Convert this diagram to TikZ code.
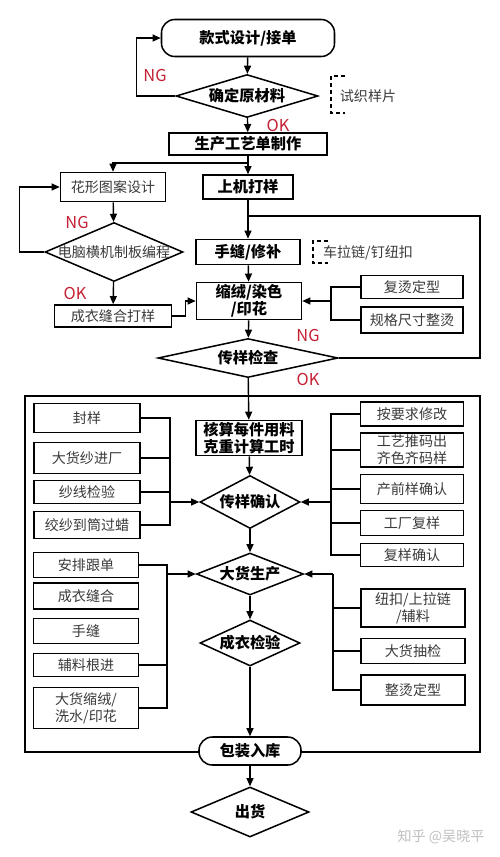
\documentclass[tikz,border=0pt]{standalone}
\usepackage{fontspec}
\setmainfont{Noto Sans CJK SC}
\usetikzlibrary{shapes.geometric, arrows.meta}
\newcommand{\px}{0.03cm}
\newcommand{\bigfont}{\fontsize{13}{15}\selectfont\bfseries}
\newcommand{\smallfont}{\fontsize{12}{14.5}\selectfont}
\definecolor{ngred}{RGB}{196,32,52}
\definecolor{txtgray}{RGB}{58,58,58}
\tikzstyle{term} = [rectangle, rounded corners=0.4cm, draw=black, line width=1.3pt, fill=white, inner sep=0pt, font=\bigfont]
\tikzstyle{decide} = [diamond, draw=black, line width=1.3pt, fill=white, inner sep=0pt, font=\bigfont]
\tikzstyle{proc} = [rectangle, draw=black, line width=1.3pt, fill=white, inner sep=0pt, align=center, font=\bigfont]
\tikzstyle{task} = [rectangle, draw=black, line width=1.3pt, fill=white, inner sep=0pt, align=center, text=txtgray, font=\smallfont]
\tikzstyle{note} = [text=txtgray, font=\smallfont]
\tikzstyle{tag} = [text=ngred, font=\fontsize{14}{16}\selectfont]
\tikzstyle{arrow} = [line width=1.2pt, -{Triangle[length=7pt,width=6pt]}]
\tikzstyle{link} = [line width=1.2pt]
\begin{document}
\begin{tikzpicture}[x=\px, y=-\px]
	\useasboundingbox (0,0) rectangle (500,857);
	% frame round the production part
	\draw [link] (25,396) rectangle (480,752);

	% sampling
	\node (start) [term, minimum width=173*\px, minimum height=37*\px] at (248,38) {款式设计/接单};
	\node (dmat) [decide, minimum width=142*\px, minimum height=43*\px] at (247,96) {\makebox[0pt]{确定原材料}};
	\node (trial) [note] at (368,96) {试织样片};
	\draw [link, dashed] (345,76) -- (331,76) -- (331,113) -- (345,113);
	\node (ptech) [proc, minimum width=158*\px, minimum height=22*\px] at (248,144) {生产工艺单制作};
	\node (ppat) [task, minimum width=105*\px, minimum height=29*\px] at (113,187) {花形图案设计};
	\node (pknit) [proc, minimum width=90*\px, minimum height=24*\px] at (248,187) {上机打样};
	\node (dprog) [decide, minimum width=138*\px, minimum height=59*\px, text=txtgray, font=\smallfont] at (114,252) {\makebox[0pt]{电脑横机制板编程}};
	\node (psew) [task, minimum width=117*\px, minimum height=22*\px] at (113,316) {成衣缝合打样};
	\node (phand) [proc, minimum width=104*\px, minimum height=25*\px] at (248,252) {手缝/修补};
	\node (zip) [note] at (368,253) {车拉链/钉纽扣};
	\draw [link, dashed] (328,241) -- (313,241) -- (313,263) -- (328,263);
	\node (pshrink) [proc, minimum width=105*\px, minimum height=37*\px] at (249,301) {缩绒/染色\\/印花};
	\node (iron1) [task, minimum width=102*\px, minimum height=23*\px] at (412,287) {复烫定型};
	\node (iron2) [task, minimum width=102*\px, minimum height=26*\px] at (412,320) {规格尺寸整烫};
	\node (dcheck) [decide, minimum width=180*\px, minimum height=39*\px] at (248,358) {\makebox[0pt]{传样检查}};

	% production
	\node (pcalc) [proc, minimum width=106*\px, minimum height=35*\px] at (249,438) {核算每件用料\\克重计算工时};
	\node (dconf) [decide, minimum width=100*\px, minimum height=53*\px] at (250,502) {\makebox[0pt]{传样确认}};
	\node (la1) [task, minimum width=106*\px, minimum height=29*\px] at (87,418) {封样};
	\node (la2) [task, minimum width=106*\px, minimum height=31*\px] at (87,458) {大货纱进厂};
	\node (la3) [task, minimum width=106*\px, minimum height=23*\px] at (87,492) {纱线检验};
	\node (la4) [task, minimum width=106*\px, minimum height=27*\px] at (87,525) {绞纱到筒过蜡};
	\node (ra1) [task, minimum width=103*\px, minimum height=24*\px] at (412,414) {按要求修改};
	\node (ra2) [task, minimum width=103*\px, minimum height=34*\px] at (412,450) {工艺推码出\\齐色齐码样};
	\node (ra3) [task, minimum width=103*\px, minimum height=29*\px] at (412,489) {产前样确认};
	\node (ra4) [task, minimum width=103*\px, minimum height=25*\px] at (412,523) {工厂复样};
	\node (ra5) [task, minimum width=103*\px, minimum height=23*\px] at (412,555) {复样确认};
	\node (dprod) [decide, minimum width=107*\px, minimum height=42*\px] at (250,574) {\makebox[0pt]{大货生产}};
	\node (lb1) [task, minimum width=105*\px, minimum height=25*\px] at (86,565) {安排跟单};
	\node (lb2) [task, minimum width=105*\px, minimum height=26*\px] at (86,596) {成衣缝合};
	\node (lb3) [task, minimum width=105*\px, minimum height=25*\px] at (86,631) {手缝};
	\node (lb4) [task, minimum width=105*\px, minimum height=23*\px] at (86,665) {辅料根进};
	\node (lb5) [task, minimum width=105*\px, minimum height=41*\px] at (86,708) {大货缩绒/\\洗水/印花};
	\node (rb1) [task, minimum width=104*\px, minimum height=38*\px] at (413,608) {纽扣/上拉链\\/辅料};
	\node (rb2) [task, minimum width=104*\px, minimum height=25*\px] at (413,651) {大货抽检};
	\node (rb3) [task, minimum width=104*\px, minimum height=30*\px] at (413,690) {整烫定型};
	\node (dqc) [decide, minimum width=100*\px, minimum height=46*\px] at (250,643) {\makebox[0pt]{成衣检验}};
	\node (tpack) [term, minimum width=102*\px, minimum height=28*\px] at (250,751) {包装入库};
	\node (dship) [decide, minimum width=118*\px, minimum height=50*\px] at (250,812) {\makebox[0pt]{出货}};
	\node (mark) [text=black!25, font=\smallfont] at (441,837) {知乎 @吴晓平};

	% NG / OK
	\node (ng1) [tag] at (155,75) {NG};
	\node (ok1) [tag] at (278,125) {OK};
	\node (ng2) [tag] at (77,222) {NG};
	\node (ok2) [tag] at (75,293) {OK};
	\node (ng3) [tag] at (308,335) {NG};
	\node (ok3) [tag] at (308,379) {OK};

	\coordinate (split) at (248,163);
	\coordinate (loop) at (480,216);
	\coordinate (join) at (248,216);
	\coordinate (busa) at (331,301);
	\coordinate (busb) at (170,502);
	\coordinate (busc) at (331,502);
	\coordinate (busd) at (167,574);
	\coordinate (buse) at (333,574);

	\draw [arrow] (start) -- (dmat);
	\draw [arrow] (dmat.west) -- ++(-39,0) |- (start.west);
	\draw [arrow] (dmat) -- (ptech);
	\draw [link] (ptech) -- (split);
	\draw [arrow] (split) -- (pknit);
	\draw [arrow] (split) -| (ppat);
	\draw [arrow] (ppat) -- (dprog);
	\draw [arrow] (dprog.west) -- ++(-25,0) |- (ppat.west);
	\draw [arrow] (dprog) -- (psew);
	\draw [arrow] (psew.east) -- ++(13,0) |- (pshrink.west);
	\draw [arrow] (pknit) -- (phand);
	\draw [link] (dcheck.east) -| (loop) -- (join);
	\draw [arrow] (phand) -- (pshrink);
	\draw [link] (iron1.west) -| (busa);
	\draw [link] (iron2.west) -| (busa);
	\draw [arrow] (busa) -- (pshrink.east);
	\draw [arrow] (pshrink) -- (dcheck);
	\draw [arrow] (dcheck) -- (pcalc);
	\draw [arrow] (pcalc) -- (dconf);
	\draw [link] (la1.east) -| (busb);
	\draw [link] (la2.east) -| (busb);
	\draw [link] (la3.east) -| (busb);
	\draw [link] (la4.east) -| (busb);
	\draw [arrow] (busb) -- (dconf.west);
	\draw [link] (ra1.west) -| (busc);
	\draw [link] (ra2.west) -| (busc);
	\draw [link] (ra3.west) -| (busc);
	\draw [link] (ra4.west) -| (busc);
	\draw [link] (ra5.west) -| (busc);
	\draw [arrow] (busc) -- (dconf.east);
	\draw [arrow] (dconf) -- (dprod);
	\draw [link] (lb1.east) -| (busd);
	\draw [link] (lb4.east) -| (busd);
	\draw [link] (lb5.east) -| (busd);
	\draw [arrow] (busd) -- (dprod.west);
	\draw [link] (rb1.west) -| (buse);
	\draw [link] (rb2.west) -| (buse);
	\draw [link] (rb3.west) -| (buse);
	\draw [arrow] (buse) -- (dprod.east);
	\draw [arrow] (dprod) -- (dqc);
	\draw [arrow] (dqc) -- (tpack);
	\draw [arrow] (tpack) -- (dship);
\end{tikzpicture}
\end{document}
